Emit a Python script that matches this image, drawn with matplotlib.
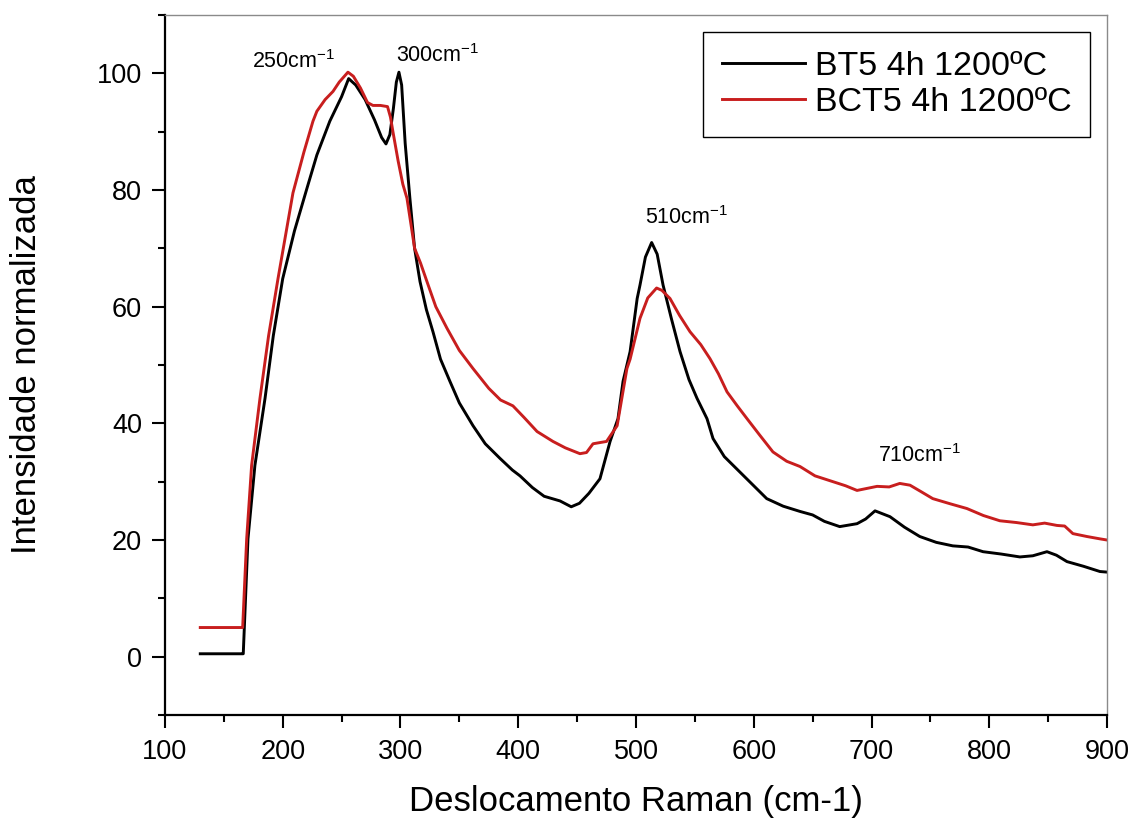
import matplotlib
matplotlib.use("Agg")
import matplotlib.pyplot as plt
from matplotlib.ticker import MultipleLocator

plt.rcParams['font.family'] = ['Liberation Sans', 'DejaVu Sans']
plt.rcParams['mathtext.default'] = 'regular'

# Raman shift (cm-1) and normalized intensity, BT5 sintered 4 h at 1200 ºC
bt5_shift = [130, 165, 166.5, 170.5, 176.4, 185, 192, 200, 210, 220.6, 229, 240,
             250, 256, 262, 270, 278, 284, 287.7, 291, 294, 296.5, 298.7, 301,
             304, 308, 312, 316.6, 322, 327.6, 334, 342, 350, 361.6, 372, 384.5,
             395, 401.5, 412, 422, 435.5, 445, 452, 460, 469.4, 478, 484.7, 489,
             495, 501, 503.4, 508, 513.3, 518, 523, 530, 537.4, 545, 551.8, 560.3,
             565.4, 575, 588, 600, 611, 625, 639.3, 650, 660, 673, 687.7, 695, 703,
             715.7, 728, 741, 755, 769, 782, 794.7, 810, 826, 837, 849, 857, 866,
             880, 894, 900]
bt5_int = [0.5, 0.5, 0.5, 20.2, 32.8, 44.3, 55, 64.8, 73, 80.3, 86, 91.8,
           96, 99.1, 98, 95.5, 92, 89, 87.9, 89.5, 94, 98.5, 100.2, 98,
           88, 78.6, 70, 64.3, 59.5, 55.7, 51, 47.2, 43.5, 39.6, 36.5, 34,
           32, 31, 29, 27.5, 26.7, 25.7, 26.3, 28, 30.5, 36.9, 40.8, 47.2,
           52.3, 61.4, 63.7, 68.5, 71.0, 69, 63.7, 58, 52.3, 47.5, 44.3, 40.8,
           37.4, 34.3, 31.7, 29.3, 27.1, 25.8, 24.9, 24.3, 23.2, 22.3, 22.8, 23.6, 25.0,
           24.0, 22.2, 20.6, 19.6, 19.0, 18.8, 18.0, 17.6, 17.1, 17.3, 18.0, 17.4, 16.3,
           15.5, 14.6, 14.5]

# Raman shift (cm-1) and normalized intensity, BCT5 sintered 4 h at 1200 ºC
bct5_shift = [130, 165, 166, 169.4, 173.6, 180.7, 188, 196, 208.7, 218, 225.7, 229,
              236, 242.7, 248, 255.4, 260, 266, 272, 276.6, 283, 289, 291.5, 293.6,
              298, 302, 305.5, 309, 312, 317, 322.5, 330, 339.5, 350, 361.6, 375,
              385, 395.5, 405, 416, 429.5, 440, 452.4, 458, 463.5, 475, 484, 492.3,
              495, 503.4, 510, 517.5, 522, 528.9, 537, 545.9, 555, 562.8, 570, 577.3,
              586, 594.3, 605, 616.3, 628, 639.3, 652, 667.3, 678, 687.7, 695, 704.7,
              715, 724, 732.7, 742, 752, 767, 781, 795, 809, 823, 837, 847, 857.5,
              864, 871, 883, 894, 900]
bct5_int = [5, 5, 5, 20.2, 32.8, 44.3, 55, 64.8, 79.5, 86.5, 91.8, 93.5,
            95.5, 96.9, 98.5, 100.2, 99.5, 97.5, 95, 94.5, 94.5, 94.3, 92.5, 90,
            85, 81, 78.6, 74, 70, 67.5, 64.3, 60, 56.3, 52.5, 49.4, 46,
            44, 43, 41, 38.6, 36.9, 35.8, 34.8, 35.0, 36.5, 36.9, 39.6, 49.4,
            51, 58, 61.5, 63.2, 62.8, 61.4, 58.5, 55.7, 53.5, 51.1, 48.5, 45.4,
            43, 40.8, 38, 35.1, 33.5, 32.6, 31, 30, 29.3, 28.5, 28.8, 29.2,
            29.1, 29.7, 29.4, 28.3, 27.1, 26.2, 25.4, 24.2, 23.3, 23.0, 22.6, 22.9, 22.5,
            22.4, 21.1, 20.6, 20.2, 20.0]

series_labels = ['BT5 4h 1200ºC', 'BCT5 4h 1200ºC']
series_colors = ['#000000', '#c81e1e']

# Band annotations: wavenumber and text anchor (left, baseline) in data units
band_values = [250, 300, 510, 710]
band_text_x = [174.3, 296.2, 507.6, 705.8]
band_text_y = [100.9, 101.9, 74.1, 33.3]

fig = plt.figure(figsize=(11.36, 8.25), dpi=100)
ax = fig.add_axes([0.1452, 0.1333, 0.8293, 0.8485])

ax.plot(bt5_shift, bt5_int, color=series_colors[0], lw=2.1,
        label=series_labels[0], solid_joinstyle='round')
ax.plot(bct5_shift, bct5_int, color=series_colors[1], lw=2.1,
        label=series_labels[1], solid_joinstyle='round')

for val, tx, ty in zip(band_values, band_text_x, band_text_y):
    ax.text(tx, ty, f'{val}cm$^{{-1}}$', fontsize=15.5, ha='left', va='baseline')

ax.set_xlim(100, 900)
ax.set_ylim(-10, 110)
ax.xaxis.set_major_locator(MultipleLocator(100))
ax.xaxis.set_minor_locator(MultipleLocator(50))
ax.yaxis.set_major_locator(MultipleLocator(20))
ax.yaxis.set_minor_locator(MultipleLocator(10))

for side in ('left', 'bottom'):
    ax.spines[side].set_linewidth(1.6)
    ax.spines[side].set_color('black')
for side in ('top', 'right'):
    ax.spines[side].set_linewidth(1.0)
    ax.spines[side].set_color('#8a8a8a')

ax.tick_params(which='major', direction='out', length=9.5, width=1.5,
               labelsize=19.5, pad=7, top=False, right=False)
ax.tick_params(which='minor', direction='out', length=5, width=1.5,
               top=False, right=False)
ax.tick_params(axis='x', which='major', pad=8)

ax.set_xlabel('Deslocamento Raman (cm-1)', fontsize=25)
ax.set_ylabel('Intensidade normalizada', fontsize=25)
ax.xaxis.set_label_coords(0.5, -0.124)
ax.xaxis.label.set_va('center')
ax.yaxis.set_label_coords(-0.1465, 0.5)
ax.yaxis.label.set_va('center')

leg = ax.legend(loc='upper right', bbox_to_anchor=(0.982, 0.9757),
                fontsize=24.5, frameon=True, fancybox=False, framealpha=1,
                borderaxespad=0, handlelength=2.45, handletextpad=0.28,
                labelspacing=0.15, borderpad=0.55)
leg.get_frame().set_edgecolor('black')
leg.get_frame().set_linewidth(1.0)
for line in leg.get_lines():
    line.set_linewidth(2.1)

fig.savefig('out.png', dpi=100)
